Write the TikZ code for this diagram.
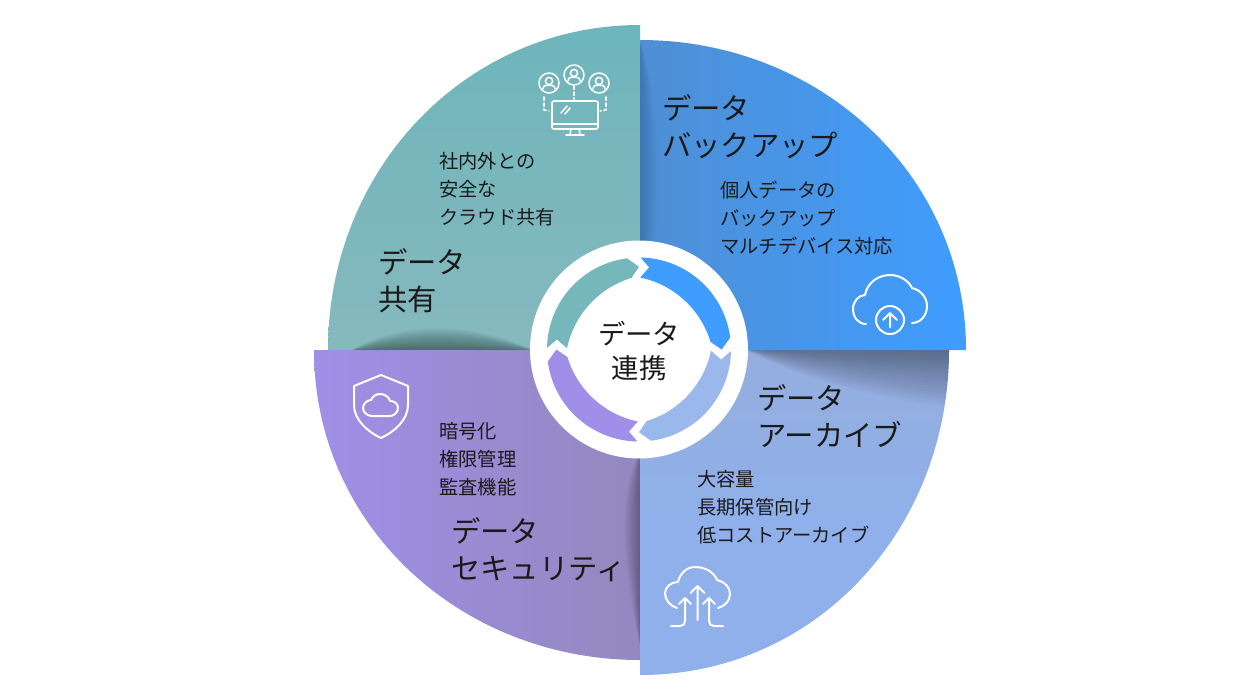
\documentclass[tikz,border=0pt]{standalone}
\usepackage{fontspec}
\setmainfont{Noto Sans CJK JP}
\usetikzlibrary{calc}
\definecolor{teal1}{HTML}{6DB5BC}
\definecolor{teal2}{HTML}{86B9BD}
\definecolor{teal3}{HTML}{76B7BC}
\definecolor{blue1}{HTML}{3F9DFF}
\definecolor{blue2}{HTML}{4F8FD4}
\definecolor{peri1}{HTML}{8FB0EA}
\definecolor{peri2}{HTML}{95AEDE}
\definecolor{purp1}{HTML}{A08FE8}
\definecolor{purp2}{HTML}{9388BE}
\definecolor{ink}{HTML}{1A1A1A}
\tikzset{x=0.75pt,y=-0.75pt,
 titletext/.style={align=left,anchor=west,font=\fontsize{22}{27.75}\selectfont,text=ink,inner sep=0pt},
 bodytext/.style={align=left,anchor=west,font=\fontsize{14.45}{21}\selectfont,text=ink,inner sep=0pt},
 hubtext/.style={align=center,font=\fontsize{20.5}{25.5}\selectfont,text=ink,inner sep=0pt},
 icon/.style={draw=white,line width=1.5pt,line cap=round,line join=round},
 iconthin/.style={icon,line width=1.15pt},
 shadowlayer/.style={fill=black,opacity=0.02,draw=none},
}
\newcommand{\sectorTL}{(640,350) -- (328,350) .. controls (328,170) and (465,25) .. (640,25) -- cycle}
\newcommand{\sectorTR}{(640,350) -- (640,40) .. controls (820,40) and (966,175) .. (966,350) -- cycle}
\newcommand{\sectorBR}{(640,350) -- (949,350) .. controls (949,530) and (815,675) .. (640,675) -- cycle}
\newcommand{\sectorBL}{(640,350) -- (640,660) .. controls (460,660) and (314,525) .. (314,350) -- cycle}
% ring arrow: #1 rotation, #2 colour
\newcommand{\ringarrow}[2]{%
 \fill[#2,rotate=#1] plot[domain=89:7.5,samples=40] (\x:92) -- (0:82.7) -- plot[domain=6:89,samples=40] (\x:{67+5*((\x-47.5)/41.5)^2}) -- (83:82.7) -- cycle;}
% person
\newcommand{\person}[2]{%
 \draw[iconthin] (#1,#2) circle[radius=10];
 \draw[iconthin] (#1,#2-2) circle[radius=3.6];
 \draw[iconthin] (#1-6,#2+6) .. controls (#1-6,#2+2.5) and (#1-3,#2+2) .. (#1,#2+2) .. controls (#1+3,#2+2) and (#1+6,#2+2.5) .. (#1+6,#2+6);}
\begin{document}
\begin{tikzpicture}
\useasboundingbox (0,0) rectangle (1246,694);
\fill[white] (0,0) rectangle (1246,694);
% sectors
\begin{scope}
\clip \sectorTL;
\shade[top color=teal1,bottom color=teal2] (320,20) rectangle (645,352);
\foreach \t in {1,...,24} {
  \fill[shadowlayer] (350,351) .. controls (410,{351-1.45*\t}) and (480,{351-1.1*\t}) .. (535,351) -- cycle;
}
\end{scope}
\begin{scope}
\clip \sectorBL;
\shade[left color=purp1,right color=purp2] (310,348) rectangle (645,665);
\foreach \t in {1,...,16} {
  \fill[shadowlayer] (641,450) .. controls ({641-1.5*\t},490) and ({641-1.3*\t},560) .. (641,650) -- cycle;
}
\end{scope}
\begin{scope}
\clip \sectorBR;
\shade[top color=peri2,bottom color=peri1] (635,348) rectangle (955,520);
\fill[peri1] (635,519.5) rectangle (955,680);
\foreach \t in {1,...,20} {
  \fill[shadowlayer] (745,349) .. controls (800,{349+1.5*\t}) and (880,{349+2.5*\t}) .. (952,{349+3*\t}) -- (952,349) -- cycle;
}
\end{scope}
\begin{scope}
\clip \sectorTR;
\shade[left color=blue2,right color=blue1] (638,35) rectangle (970,352);
\foreach \t in {1,...,10} {
  \fill[shadowlayer,opacity=0.015] (639,40) .. controls ({639+2.5*\t},90) and ({639+2.5*\t},250) .. (639,352) -- cycle;
}
\end{scope}
% centre
\node[circle,fill=white,minimum size=163.5pt,inner sep=0pt] (hub) at (639,349.5) {};
\begin{scope}[shift={(639,349.5)},yscale=-1]
\ringarrow{0}{blue1}
\ringarrow{90}{peri1!90!white}
\ringarrow{180}{purp1}
\ringarrow{-90}{teal3}
\end{scope}
\node[hubtext] (hubtxt) at (639,351) {データ\\連携};
% texts
\node[titletext] (tb) at (662,126.5) {データ\\バックアップ};
\node[titletext] (ta) at (757,416) {データ\\アーカイブ};
\node[titletext] (ts) at (451,549.5) {データ\\セキュリティ};
\node[titletext] (tk) at (378,281) {データ\\共有};
\node[bodytext] (bb) at (720,218) {個人データの\\バックアップ\\マルチデバイス対応};
\node[bodytext] (ba) at (697,507) {大容量\\長期保管向け\\低コストアーカイブ};
\node[bodytext] (bs) at (439,459.5) {暗号化\\権限管理\\監査機能};
\node[bodytext] (bk) at (439,189) {社内外との\\安全な\\クラウド共有};
% monitor icon
\person{574}{75}\person{549}{83}\person{599}{83}
\draw[iconthin,rounded corners=1.5] (552,101) rectangle (598,129);
\draw[iconthin] (552,124) -- (598,124);
\draw[iconthin] (561,113) -- (567,106) (565,114) -- (570,108);
\draw[iconthin] (571,129) -- (570,134) (579,129) -- (580,134) (566,135) -- (584,135);
\draw[iconthin,dash pattern=on 2.5pt off 2pt] (574,86) -- (574,99);
\draw[iconthin,dash pattern=on 2.5pt off 2pt] (544,97) -- (544,110) -- (549,111);
\draw[iconthin,dash pattern=on 2.5pt off 2pt] (606,97) -- (606,110) -- (600,111);
% upload cloud
\draw[icon] (866,324) .. controls (858,324) and (853,317) .. (853,309) .. controls (853,301) and (859,295) .. (865,295) .. controls (867,283) and (878,275) .. (890,275) .. controls (900,275) and (909,281) .. (912,288) .. controls (921,290) and (927,298) .. (927,306) .. controls (927,316) and (920,323) .. (912,323);
\draw[icon] (890,320) circle[radius=14];
\draw[icon] (890,327) -- (890,314) (883,320) -- (890,313) -- (897,320);
% archive cloud
\draw[icon] (677,608) .. controls (670,606) and (665,600) .. (665,593) .. controls (665,587) and (671,582) .. (678,582) .. controls (680,573) and (687,567) .. (695,567) .. controls (705,567) and (714,572) .. (717,580) .. controls (725,582) and (730,587) .. (730,594) .. controls (730,601) and (725,606) .. (718,608);
\draw[icon] (697.5,620) -- (697.5,586) (690.5,593) -- (697.5,586) -- (704.5,593);
\draw[icon] (671,626) -- (680,626) .. controls (683,626) and (685,624) .. (685,621) -- (685,598) (679,604) -- (685,598) -- (691,604);
\draw[icon] (723,626) -- (714,626) .. controls (711,626) and (709,624) .. (709,621) -- (709,598) (703,604) -- (709,598) -- (715,604);
% shield
\draw[icon] (381,375) -- (354,386) -- (354,405) .. controls (354,420) and (368,432) .. (381,438) .. controls (394,432) and (408,420) .. (408,405) -- (408,386) -- cycle;
\draw[icon] (372,416) .. controls (367,416) and (363,412) .. (363,408) .. controls (363,404) and (367,400) .. (371,400) .. controls (373,396) and (376,394) .. (380,394) .. controls (385,394) and (389,397) .. (390,401) .. controls (395,401) and (398,404) .. (398,408) .. controls (398,412) and (394,416) .. (390,416) -- cycle;
\end{tikzpicture}
\end{document}
